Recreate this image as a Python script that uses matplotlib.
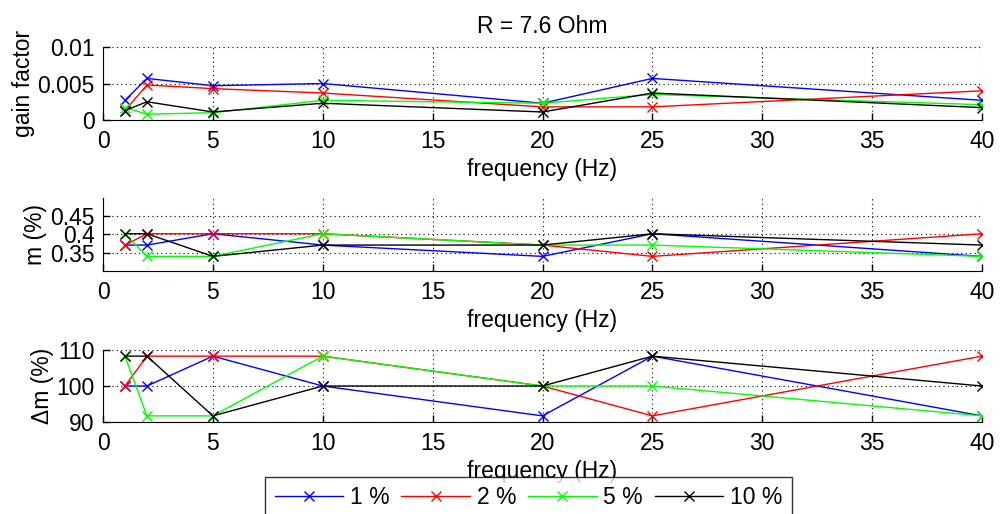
import numpy as np
import matplotlib.pyplot as plt

plt.rcParams['font.family'] = ['Liberation Sans', 'DejaVu Sans']
plt.rcParams['font.size'] = 16.5

# Measurement frequencies (Hz)
freq = [1, 2, 5, 10, 20, 25, 40]

# Gain factor per tolerance level
gain_1 = [0.0027, 0.0057, 0.0047, 0.0050, 0.0023, 0.0057, 0.0027]
gain_2 = [0.0013, 0.0048, 0.0043, 0.0037, 0.0018, 0.0018, 0.0040]
gain_5 = [0.0017, 0.0008, 0.0010, 0.0027, 0.0023, 0.0035, 0.0021]
gain_10 = [0.0013, 0.0025, 0.0011, 0.0023, 0.0011, 0.0037, 0.0017]

# m (%)
m_1 = [0.371, 0.371, 0.402, 0.371, 0.340, 0.402, 0.340]
m_2 = [0.371, 0.402, 0.402, 0.402, 0.371, 0.340, 0.402]
m_5 = [0.402, 0.340, 0.340, 0.402, 0.371, 0.371, 0.340]
m_10 = [0.402, 0.402, 0.340, 0.371, 0.371, 0.402, 0.371]

# delta m (%)
dm_1 = [100, 100, 108.3, 100, 91.7, 108.3, 91.7]
dm_2 = [100, 108.3, 108.3, 108.3, 100, 91.7, 108.3]
dm_5 = [108.3, 91.7, 91.7, 108.3, 100, 100, 91.7]
dm_10 = [108.3, 108.3, 91.7, 100, 100, 108.3, 100]

labels = ['1 %', '2 %', '5 %', '10 %']
colors = ['#0000ff', '#ff0000', '#00ff00', '#000000']

panels = [
    ([gain_1, gain_2, gain_5, gain_10], 'gain factor', (0, 0.01), [0, 0.005, 0.01], ['0', '0.005', '0.01']),
    ([m_1, m_2, m_5, m_10], 'm (%)', (0.3, 0.5), [0.35, 0.4, 0.45], ['0.35', '0.4', '0.45']),
    ([dm_1, dm_2, dm_5, dm_10], '\u0394m (%)', (90, 110), [90, 100, 110], ['90', '100', '110']),
]
positions = [
    [0.103, 0.7665, 0.879, 0.142],
    [0.103, 0.4728, 0.879, 0.142],
    [0.103, 0.179, 0.879, 0.140],
]

fig = plt.figure(figsize=(10, 5.14), dpi=100)

for (series, ylab, ylim, yticks, yticklabels), pos in zip(panels, positions):
    ax = fig.add_axes(pos)
    for vals, col, lab in zip(series, colors, labels):
        ax.plot(freq, vals, color=col, marker='x', markersize=7, markeredgewidth=1,
                linewidth=1, label=lab)
    ax.set_xlim(0, 40)
    ax.set_ylim(*ylim)
    ax.set_xticks(np.arange(0, 41, 5))
    ax.set_yticks(yticks)
    ax.set_yticklabels(yticklabels)
    ax.set_xlabel('frequency (Hz)', labelpad=4)
    ax.set_ylabel(ylab, labelpad=2)
    ax.grid(True, linestyle=(0, (1, 3)), color='black', linewidth=0.8)
    ax.spines['top'].set_visible(False)
    ax.spines['right'].set_visible(False)
    ax.tick_params(axis='x', direction='in', length=5, width=1, pad=7)
    ax.tick_params(axis='y', direction='in', length=5, width=1, pad=6)
    ax.set_axisbelow(True)
    if ylab == 'gain factor':
        ax.set_title('R = 7.6 Ohm', fontsize=16.5, pad=10)
    last = ax

handles, labs = last.get_legend_handles_labels()
leg = fig.legend(handles, labs, loc='upper center', bbox_to_anchor=(0.5285, 1 - 477 / 514),
                 ncol=4, frameon=True, fancybox=False, edgecolor='black',
                 handlelength=3.0, columnspacing=0.5, handletextpad=0.3,
                 borderpad=0.4, borderaxespad=0)
leg.get_frame().set_linewidth(1)

fig.savefig('out.png', dpi=100)
